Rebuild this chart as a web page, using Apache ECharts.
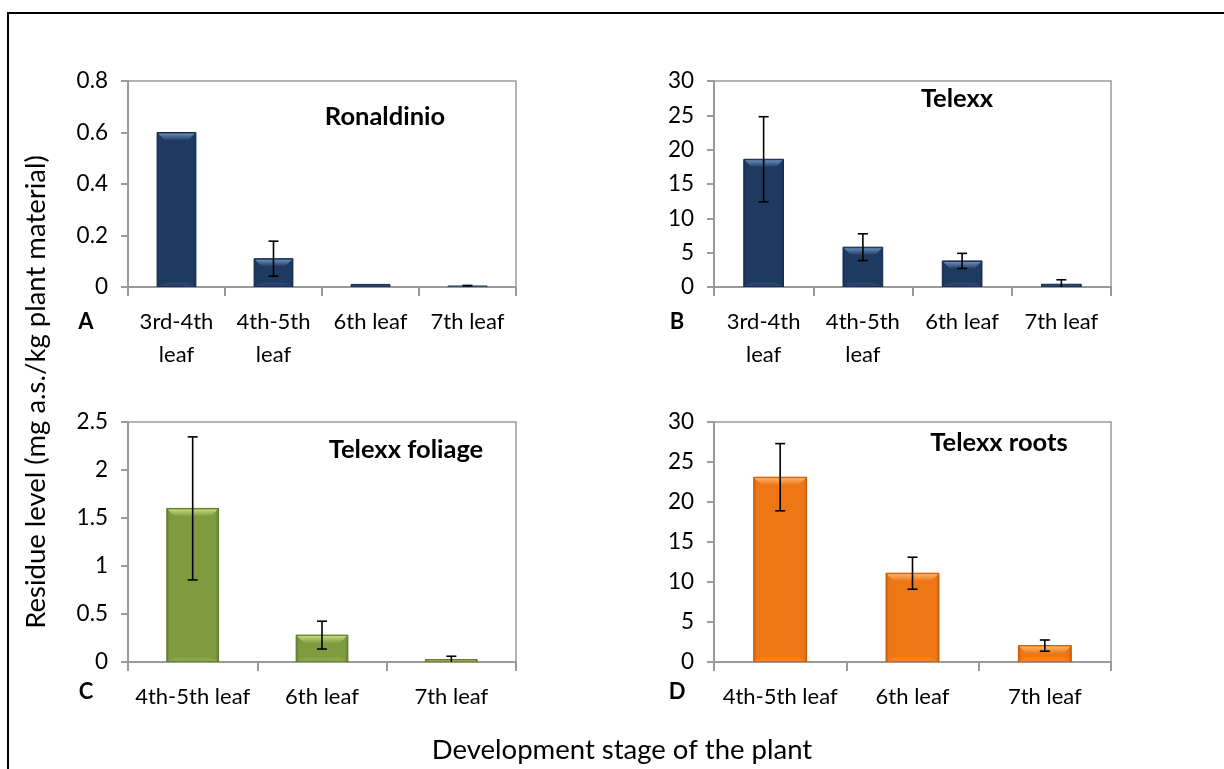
<!DOCTYPE html>
<html>
<head>
<meta charset="utf-8">
<script src="https://cdn.jsdelivr.net/npm/echarts@6/dist/echarts.min.js"></script>
<style>
  html, body { margin: 0; padding: 0; background: #fff; }
  #chart { width: 1224px; height: 769px; }
</style>
</head>
<body>
<div id="chart"></div>
<script>
// Residue levels by development stage (mg a.s./kg plant material)
const stagesAB = ['3rd-4th\nleaf', '4th-5th\nleaf', '6th leaf', '7th leaf'];
const stagesCD = ['4th-5th leaf', '6th leaf', '7th leaf'];

const ronaldinio = [0.6, 0.11, 0.01, 0.002];
const ronaldinioErr = [0, 0.068, 0, 0.004];

const telexx = [18.6, 5.8, 3.8, 0.4];
const telexxErr = [6.2, 1.95, 1.1, 0.65];

const telexxFoliage = [1.6, 0.28, 0.025];
const telexxFoliageErr = [0.745, 0.145, 0.035];

const telexxRoots = [23.1, 11.1, 2.05];
const telexxRootsErr = [4.2, 2.0, 0.7];

const FONT = 'Lato, "Open Sans", sans-serif';
const AXIS_GRAY = '#9a9a9a';

const palettes = {
  navy:   { base: '#1f3a61', edge: '#13284a', light: '#6a8cba', lower: '#2c4a75' },
  green:  { base: '#7e9b40', edge: '#5c772a', light: '#c4da7c', lower: '#8fab50' },
  orange: { base: '#ef7615', edge: '#c45a06', light: '#fbb46a', lower: '#f2882e' }
};

// Bar with a bevelled top, drawn through the axis scales
function bevelBar(pal, frac) {
  return function (params, api) {
    const i = api.value(0), v = api.value(1);
    const pTop = api.coord([i, v]);
    const pBase = api.coord([i, 0]);
    const w = api.size([1, 0])[0] * frac;
    const x0 = pTop[0] - w / 2, x1 = pTop[0] + w / 2;
    const y1 = pBase[1];
    const h = Math.max(y1 - pTop[1], 1);
    const y0 = y1 - h;
    const b = Math.min(8, h / 2, w / 2);
    const hGrad = new echarts.graphic.LinearGradient(0, 0, 1, 0, [
      { offset: 0, color: pal.edge }, { offset: 0.06, color: pal.base },
      { offset: 0.94, color: pal.base }, { offset: 1, color: pal.edge }
    ]);
    const topGrad = new echarts.graphic.LinearGradient(0, 0, 0, 1, [
      { offset: 0, color: pal.light }, { offset: 1, color: pal.base }
    ]);
    return {
      type: 'group',
      children: [
        { type: 'rect', shape: { x: x0, y: y0, width: w, height: h },
          style: { fill: hGrad, stroke: pal.edge, lineWidth: 1 } },
        { type: 'polygon', shape: { points: [[x0 + 1, y0 + 1], [x1 - 1, y0 + 1], [x1 - b, y0 + b], [x0 + b, y0 + b]] },
          style: { fill: topGrad } },
        { type: 'polygon', shape: { points: [[x0 + 1, y1 - 1], [x1 - 1, y1 - 1], [x1 - b, y1 - b * 0.6], [x0 + b, y1 - b * 0.6]] },
          style: { fill: pal.lower, opacity: 0.7 } }
      ]
    };
  };
}

// Error bar: vertical whisker with caps at value ± err
function errorBar(params, api) {
  const i = api.value(0), v = api.value(1), e = api.value(2);
  if (!e) return null;
  const hi = api.coord([i, v + e]);
  const lo = api.coord([i, v - e]);
  const cap = 5;
  const st = { stroke: '#000', lineWidth: 1.6 };
  return {
    type: 'group',
    children: [
      { type: 'line', shape: { x1: hi[0], y1: hi[1], x2: lo[0], y2: lo[1] }, style: st },
      { type: 'line', shape: { x1: hi[0] - cap, y1: hi[1], x2: hi[0] + cap, y2: hi[1] }, style: st },
      { type: 'line', shape: { x1: lo[0] - cap, y1: lo[1], x2: lo[0] + cap, y2: lo[1] }, style: st }
    ]
  };
}

const grids = [
  { left: 128, top: 81, width: 388, height: 206 },
  { left: 714, top: 81, width: 397, height: 206 },
  { left: 128, top: 422, width: 388, height: 240 },
  { left: 714, top: 422, width: 397, height: 240 }
].map(g => Object.assign({ show: true, borderColor: AXIS_GRAY, borderWidth: 1.5, backgroundColor: 'transparent' }, g));

function xAxisFor(idx, cats) {
  return {
    type: 'category', gridIndex: idx, data: cats,
    axisLine: { lineStyle: { color: AXIS_GRAY, width: 2 } },
    axisTick: { show: true, length: 9, lineStyle: { color: AXIS_GRAY, width: 2 } },
    axisLabel: { color: '#000', fontFamily: FONT, fontSize: 22, lineHeight: 33, margin: 18, interval: 0 }
  };
}
function yAxisFor(idx, max, interval) {
  return {
    type: 'value', gridIndex: idx, min: 0, max: max, interval: interval,
    axisLine: { show: true, lineStyle: { color: AXIS_GRAY, width: 2 } },
    axisTick: { show: true, length: 7, lineStyle: { color: AXIS_GRAY, width: 2 } },
    splitLine: { show: false },
    axisLabel: { color: '#000', fontFamily: FONT, fontSize: 22.5, margin: 20 }
  };
}

function panelSeries(idx, values, errs, pal) {
  return [
    { type: 'custom', xAxisIndex: idx, yAxisIndex: idx, renderItem: bevelBar(pal, 0.4),
      data: values.map((v, i) => [i, v]), clip: true, z: 2 },
    { type: 'custom', xAxisIndex: idx, yAxisIndex: idx, renderItem: errorBar,
      data: values.map((v, i) => [i, v, errs[i]]), clip: true, z: 3 }
  ];
}

function label(text, x, y, size, opts) {
  return Object.assign({
    type: 'text', x: x, y: y,
    style: { text: text, fill: '#000', font: size + 'px ' + FONT,
      align: 'center', verticalAlign: 'middle', textAlign: 'center', textVerticalAlign: 'middle' }
  }, opts || {});
}
function bold(text, x, y, size) {
  const t = label(text, x, y, size);
  t.style.font = 'bold ' + size + 'px ' + FONT;
  return t;
}

const option = {
  animation: false,
  backgroundColor: '#fff',
  grid: grids,
  xAxis: [xAxisFor(0, stagesAB), xAxisFor(1, stagesAB), xAxisFor(2, stagesCD), xAxisFor(3, stagesCD)],
  yAxis: [yAxisFor(0, 0.8, 0.2), yAxisFor(1, 30, 5), yAxisFor(2, 2.5, 0.5), yAxisFor(3, 30, 5)],
  series: [
    ...panelSeries(0, ronaldinio, ronaldinioErr, palettes.navy),
    ...panelSeries(1, telexx, telexxErr, palettes.navy),
    ...panelSeries(2, telexxFoliage, telexxFoliageErr, palettes.green),
    ...panelSeries(3, telexxRoots, telexxRootsErr, palettes.orange)
  ],
  graphic: [
    // outer frame
    { type: 'rect', shape: { x: 8, y: 13, width: 1240, height: 780 },
      style: { fill: 'none', stroke: '#000', lineWidth: 2 }, silent: true },
    bold('Ronaldinio', 385, 117, 25.5),
    bold('Telexx', 957, 99, 25.5),
    bold('Telexx foliage', 406, 450, 25.5),
    bold('Telexx roots', 999, 443, 25.5),
    bold('A', 86, 322, 22),
    bold('B', 677, 322, 22),
    bold('C', 86, 692, 22),
    bold('D', 677, 692, 22),
    label('Development stage of the plant', 622, 750, 27.5),
    label('Residue level (mg a.s./kg plant material)', 36, 392, 27.5, { rotation: Math.PI / 2 })
  ]
};

const chart = echarts.init(document.getElementById('chart'), null, { renderer: 'canvas' });
chart.setOption(option);
</script>
</body>
</html>
